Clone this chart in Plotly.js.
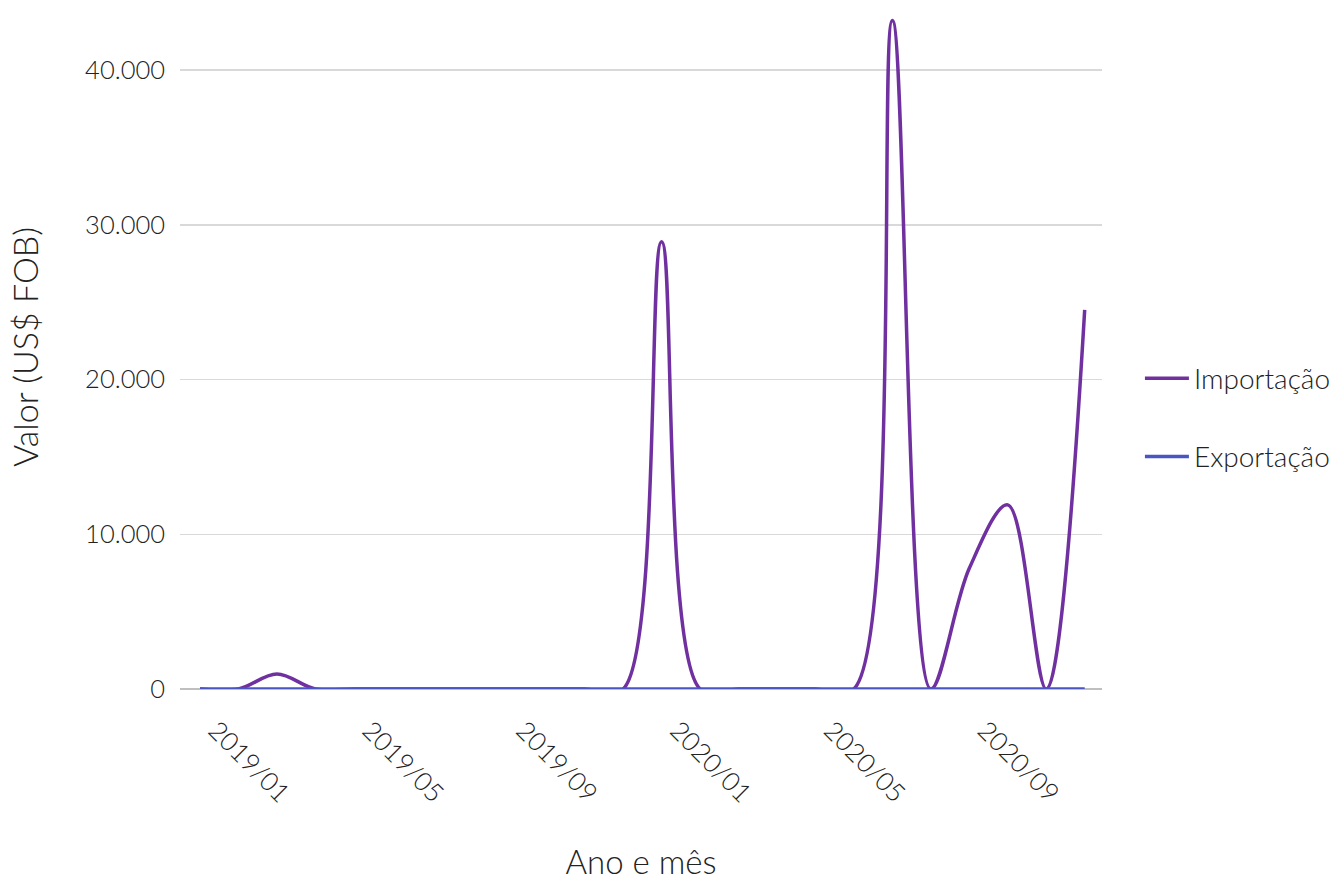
<!DOCTYPE html>
<html>
<head>
<meta charset="utf-8">
<script src="https://cdn.plot.ly/plotly-3.0.1.min.js"></script>
<style>html,body{margin:0;padding:0;background:#fff;}#chart{width:1340px;height:881px;}</style>
</head>
<body>
<div id="chart"></div>
<script>
const months = ["2019/01","2019/02","2019/03","2019/04","2019/05","2019/06","2019/07","2019/08","2019/09","2019/10","2019/11","2019/12",
                "2020/01","2020/02","2020/03","2020/04","2020/05","2020/06","2020/07","2020/08","2020/09","2020/10","2020/11","2020/12"];
const importacao = [0,0,970,0,0,0,0,0,0,0,0,0,28900,0,0,0,0,0,43200,0,7800,11900,0,24500];
const exportacao = [0,0,0,0,0,0,0,0,0,0,0,0,0,0,0,0,0,0,0,0,0,0,0,0];
const tickLabels = ["2019/01","2019/05","2019/09","2020/01","2020/05","2020/09"];
const yTicks = [0,10000,20000,30000,40000];

const font = {family: "'Lato Light', Lato, 'Open Sans', sans-serif", weight: 300, color: "#222"};

const traces = [
  {x: months, y: importacao, name: "Importação", type: "scatter", mode: "lines",
   line: {color: "#7030a0", width: 3.5, shape: "spline"}, legendgroup: "a"},
  {x: months, y: exportacao, name: "Exportação", type: "scatter", mode: "lines",
   line: {color: "#4a55c4", width: 3.5, shape: "spline"}, legendgroup: "b"}
];

const layout = {
  width: 1340, height: 881,
  margin: {l: 180, r: 237, t: 5, b: 192},
  paper_bgcolor: "#fff", plot_bgcolor: "#fff",
  separators: ",.",
  font: Object.assign({size: 26}, font),
  xaxis: {
    type: "category", range: [-0.52, 23.45],
    tickmode: "array", tickvals: tickLabels, ticktext: tickLabels,
    tickangle: 45, showgrid: false, zeroline: false, showline: false,
    ticklabelstandoff: 20, ticklabelshift: 16,
    tickfont: Object.assign({size: 26}, font),
    title: {text: "Ano e mês", font: Object.assign({size: 33}, font), standoff: 48}
  },
  yaxis: {
    range: [0, 44200], tickmode: "array", tickvals: yTicks,
    tickformat: ",d", showgrid: true, gridcolor: "#d9d9d9", gridwidth: 1.5,
    zeroline: true, zerolinecolor: "#bfbfbf", zerolinewidth: 2, showline: false,
    ticklabelstandoff: 14,
    tickfont: Object.assign({size: 25.5}, font),
    title: {text: "Valor (US$ FOB)", font: Object.assign({size: 34}, font), standoff: 36}
  },
  showlegend: true,
  legend: {x: 1.04, xanchor: "left", y: 0.397, yanchor: "middle",
           traceorder: "grouped", tracegroupgap: 39,
           font: Object.assign({size: 28}, font), itemwidth: 44}
};

Plotly.newPlot("chart", traces, layout, {displayModeBar: false, staticPlot: true});
</script>
</body>
</html>
